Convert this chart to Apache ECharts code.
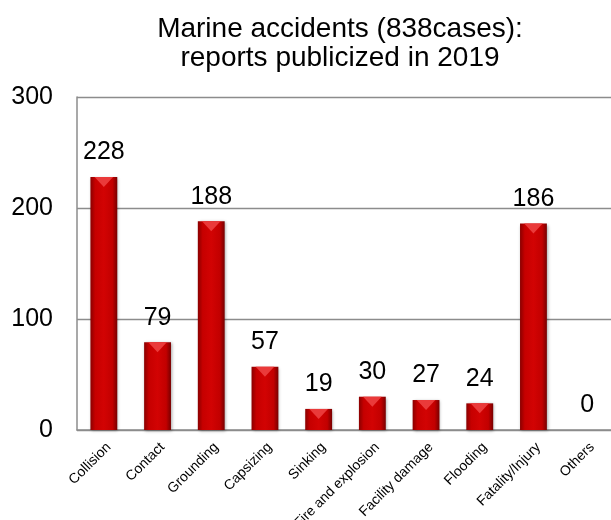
<!DOCTYPE html>
<html>
<head>
<meta charset="utf-8">
<script src="https://cdn.jsdelivr.net/npm/echarts@6/dist/echarts.min.js"></script>
<style>
  html, body { margin: 0; padding: 0; background: #fff; }
  #chart { width: 611px; height: 520px; }
</style>
</head>
<body>
<div id="chart"></div>
<script>
// Accident categories and number of published reports
const categories = ['Collision', 'Contact', 'Grounding', 'Capsizing', 'Sinking',
  'Fire and explosion', 'Facility damage', 'Flooding', 'Fatality/Injury', 'Others'];
const reportCounts = [228, 79, 188, 57, 19, 30, 27, 24, 186, 0];
const yTicks = [0, 100, 200, 300];

const chart = echarts.init(document.getElementById('chart'), null, { renderer: 'canvas' });

const FONT = 'Liberation Sans, Arial, sans-serif';

const barFill = new echarts.graphic.LinearGradient(0, 0, 1, 0, [
  { offset: 0, color: '#8a0000' },
  { offset: 0.18, color: '#c60000' },
  { offset: 0.5, color: '#d20303' },
  { offset: 0.82, color: '#c20000' },
  { offset: 1, color: '#780000' }
]);

chart.setOption({
  animation: false,
  backgroundColor: '#ffffff',
  title: {
    text: 'Marine accidents (838cases):\nreports publicized in 2019',
    left: 335,
    textAlign: 'center',
    top: 10,
    textStyle: {
      fontFamily: FONT,
      fontWeight: 'normal',
      fontSize: 28,
      lineHeight: 29,
      color: '#000'
    }
  },
  grid: {
    left: 77, top: 97, width: 537, height: 333,
    containLabel: false,
    outerBoundsMode: 'none'
  },
  xAxis: {
    type: 'category',
    data: categories,
    axisLine: { show: true, lineStyle: { color: '#8c8c8c', width: 1.5 } },
    axisTick: { show: false },
    axisLabel: {
      interval: 0,
      rotate: 45,
      margin: 10,
      verticalAlign: 'top',
      fontFamily: FONT,
      fontSize: 14,
      color: '#000'
    }
  },
  yAxis: {
    type: 'value',
    min: yTicks[0],
    max: yTicks[yTicks.length - 1],
    interval: 100,
    axisLine: { show: true, lineStyle: { color: '#8c8c8c', width: 1.5 } },
    axisTick: { show: false },
    splitLine: { show: true, lineStyle: { color: '#8c8c8c', width: 1.3 } },
    axisLabel: {
      margin: 24,
      fontFamily: FONT,
      fontSize: 25,
      color: '#000'
    }
  },
  series: [
    {
      type: 'bar',
      data: reportCounts,
      barWidth: '50%',
      itemStyle: {
        color: barFill,
        shadowColor: 'rgba(0,0,0,0.35)',
        shadowBlur: 3,
        shadowOffsetX: 1,
        shadowOffsetY: 1
      },
      label: {
        show: true,
        position: 'top',
        distance: 12,
        fontFamily: FONT,
        fontSize: 25,
        color: '#000'
      },
      z: 2
    },
    {
      // lighter bevel on the top face of each bar
      type: 'pictorialBar',
      data: reportCounts.map(v => v > 0 ? { value: v } : { value: v, symbol: 'none' }),
      symbol: 'path://M0,0 L10,0 L5,4 Z',
      symbolPosition: 'end',
      symbolSize: ['50%', 10],
      symbolOffset: [0, 0],
      itemStyle: { color: '#ea3a3a' },
      silent: true,
      z: 3
    }
  ]
});
</script>
</body>
</html>
